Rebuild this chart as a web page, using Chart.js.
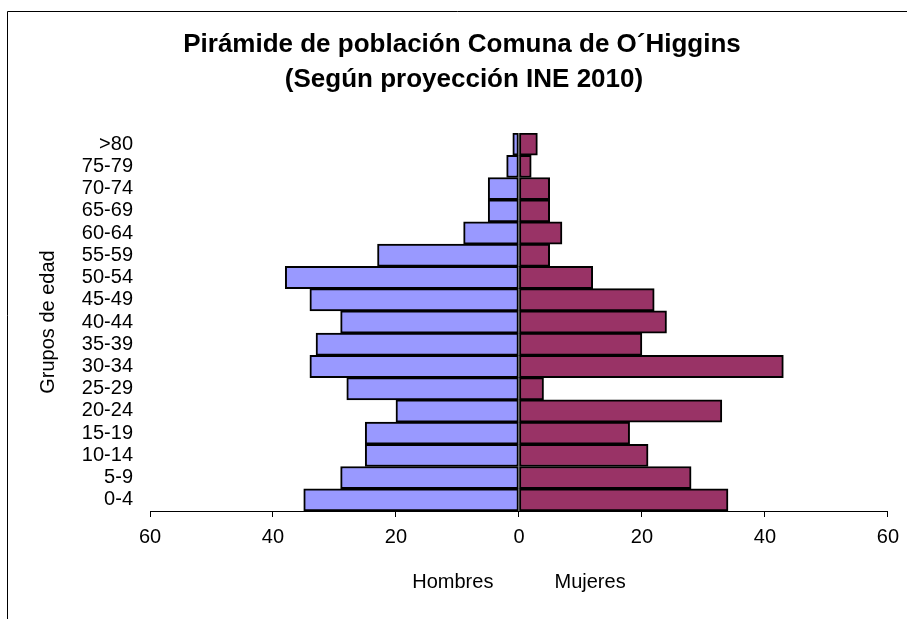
<!DOCTYPE html>
<html>
<head>
<meta charset="utf-8">
<script src="https://cdn.jsdelivr.net/npm/chart.js@4"></script>
<style>
  html, body { margin: 0; padding: 0; background: #fff; }
  #wrap { width: 907px; height: 619px; }
</style>
</head>
<body>
<div id="wrap"><canvas id="pyramid" width="907" height="619"></canvas></div>
<script>
// grupos de edad, de abajo hacia arriba
const categories = ['0-4', '5-9', '10-14', '15-19', '20-24', '25-29', '30-34', '35-39', '40-44',
                    '45-49', '50-54', '55-59', '60-64', '65-69', '70-74', '75-79', '>80'];
const hombres = [35, 29, 25, 25, 20, 28, 34, 33, 29, 34, 38, 23, 9, 5, 5, 2, 1];
const mujeres = [34, 28, 21, 18, 33, 4, 43, 20, 24, 22, 12, 5, 7, 5, 5, 2, 3];
const xLimit = 60;
const xStep = 20;
const titleLines = ['Pirámide de población Comuna de O´Higgins', '(Según proyección INE 2010)'];

Chart.defaults.font.family = '"Liberation Sans", Arial, sans-serif';
Chart.defaults.color = '#000';

const frameTitle = {
    id: 'frameTitle',
    beforeDraw(chart) {
        const c = chart.ctx;
        c.save();
        c.fillStyle = '#fff';
        c.fillRect(0, 0, chart.width, chart.height);
        c.strokeStyle = '#000';
        c.lineWidth = 1;
        c.beginPath();
        c.moveTo(7.5, chart.height);
        c.lineTo(7.5, 11.5);
        c.lineTo(chart.width, 11.5);
        c.stroke();
        c.fillStyle = '#000';
        c.font = 'bold 26px "Liberation Sans", Arial, sans-serif';
        c.textAlign = 'center';
        c.textBaseline = 'middle';
        c.fillText(titleLines[0], 462, 45);
        c.fillText(titleLines[1], 464, 80);
        c.restore();
    }
};

new Chart(document.getElementById('pyramid'), {
    type: 'bar',
    data: {
        labels: categories,
        datasets: [{
            label: 'Hombres',
            data: hombres.map(v => -v),
            backgroundColor: '#9999FF',
            borderColor: '#000',
            borderWidth: 2,
            borderSkipped: false,
            barPercentage: 1,
            categoryPercentage: 1
        }, {
            label: 'Mujeres',
            data: mujeres,
            backgroundColor: '#993366',
            borderColor: '#000',
            borderWidth: 2,
            borderSkipped: false,
            barPercentage: 1,
            categoryPercentage: 1
        }]
    },
    options: {
        indexAxis: 'y',
        responsive: false,
        animation: false,
        devicePixelRatio: 1,
        layout: { padding: { top: 133, right: 17, left: 0, bottom: 0 } },
        plugins: {
            legend: { display: false },
            tooltip: { enabled: false }
        },
        scales: {
            x: {
                type: 'linear',
                stacked: true,
                min: -xLimit,
                max: xLimit,
                ticks: {
                    stepSize: xStep,
                    callback: v => Math.abs(v),
                    font: { size: 20 },
                    padding: 8
                },
                grid: { display: true, drawOnChartArea: false, drawTicks: true, tickLength: 6, color: '#000' },
                border: { display: true, color: '#000', width: 1 },
                title: {
                    display: true,
                    text: 'Hombres' + ' '.repeat(11) + 'Mujeres',
                    font: { size: 20 },
                    padding: { top: 0, bottom: 25 }
                },
                afterFit(scale) { scale.height = 108; }
            },
            y: {
                type: 'category',
                stacked: true,
                reverse: true,
                ticks: { font: { size: 20 }, padding: 17, autoSkip: false },
                grid: { display: false, drawTicks: false },
                border: { display: false },
                title: {
                    display: true,
                    text: 'Grupos de edad',
                    font: { size: 20 },
                    padding: { top: 36, bottom: 0 }
                },
                afterFit(scale) { scale.width = 150; }
            }
        }
    },
    plugins: [frameTitle]
});
</script>
</body>
</html>
